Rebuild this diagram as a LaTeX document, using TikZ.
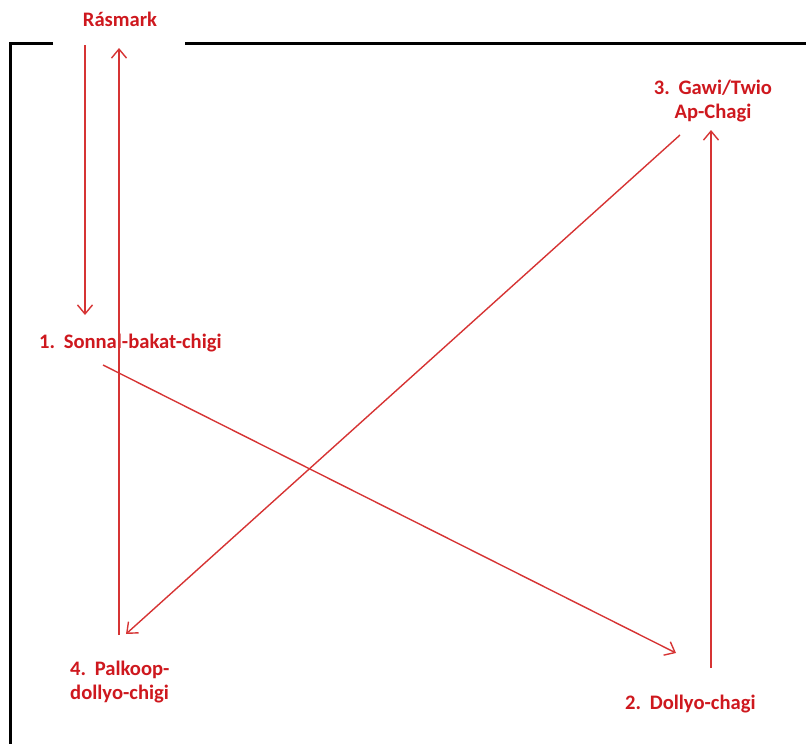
\documentclass[tikz,border=0pt]{standalone}
\usepackage{fontspec}
\setmainfont{Carlito}
\usetikzlibrary{arrows.meta}
\definecolor{txtred}{RGB}{206,24,30}
\definecolor{linered}{RGB}{214,52,52}
\tikzset{
  lbl/.style={inner sep=0pt, text=txtred, font=\fontsize{20.6}{24}\selectfont\bfseries},
  conn/.style={draw=linered, line width=1.4pt, -{Straight Barb[length=9pt,width=15pt,line width=1.4pt]}},
  frame/.style={draw=black, line width=3pt}
}
\begin{document}
\begin{tikzpicture}[x=1pt,y=-1pt]
\useasboundingbox (0,0) rectangle (806,744);
% frame
\draw[frame] (53,43) -- (10,43) -- (10,746);
\draw[frame] (185,43) -- (808,43);
% labels
\node[lbl, anchor=base] (ras) at (120,27) {Rásmark};
\node[lbl, anchor=base west] (one) at (39,348) {1.\hspace{0.42em}Sonnal-bakat-chigi};
\node[lbl, anchor=base west] (two) at (625,709) {2.\hspace{0.42em}Dollyo-chagi};
\node[lbl, anchor=north, align=center] (three) at (713,80) {3.\hspace{0.42em}Gawi/Twio\\Ap-Chagi};
\node[lbl, anchor=north west, align=left] (four) at (70,661) {4.\hspace{0.42em}Palkoop-\\dollyo-chigi};
% connector end points
\coordinate (rasS1) at (85,45);
\coordinate (oneN) at (85,315);
\coordinate (fourN1) at (119,635);
\coordinate (rasS2) at (119,48);
\coordinate (oneSE) at (103,365);
\coordinate (twoNW) at (676,653);
\coordinate (threeSW) at (680,135);
\coordinate (fourNE) at (126,634);
\coordinate (twoN) at (711,668);
\coordinate (threeS) at (711,130);
% connectors
\draw[conn] (rasS1) -- (oneN);
\draw[conn] (fourN1) -- (rasS2);
\draw[conn] (oneSE) -- (twoNW);
\draw[conn] (threeSW) -- (fourNE);
\draw[conn] (twoN) -- (threeS);
\end{tikzpicture}
\end{document}
